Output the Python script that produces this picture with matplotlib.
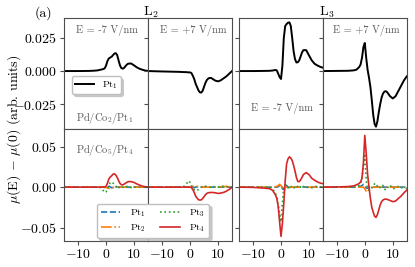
import matplotlib
matplotlib.use('Agg')
import matplotlib.pyplot as plt
from matplotlib.lines import Line2D

plt.rcParams.update({
    'font.family': 'serif',
    'font.serif': ['cmr10'],
    'mathtext.fontset': 'cm',
    'axes.formatter.use_mathtext': True,
    'font.size': 10,
})

# energy grid (eV, relative to edge) shared by all curves
energy = [-15, -10, -6, -4, -3, -2, -1.5, -1, -0.5, 0, 0.5, 1, 1.5, 2, 2.5, 3, 3.5,
          4, 4.5, 5, 5.5, 6, 6.5, 7, 7.5, 8, 9, 10, 11, 12, 13, 14, 15]

# --- Pd/Co2/Pt1 (top row), Pt1 only ---
top_l2_minus = [0, 0, 0.0001, 0.0003, 0.0005, 0.001, 0.0012, 0.0015, 0.002, 0.004, 0.0075,
                0.0095, 0.0102, 0.0108, 0.012, 0.0132, 0.0135, 0.012, 0.008, 0.0042, 0.0022,
                0.0018, 0.0025, 0.0038, 0.005, 0.0056, 0.0057, 0.0043, 0.0028, 0.0017, 0.001,
                0.0004, 0.0001]
top_l2_plus = [0, -0.0003, -0.0005, -0.0006, -0.0007, -0.0008, -0.0008, -0.0009, -0.001,
               -0.001, -0.0015, -0.0035, -0.006, -0.0095, -0.012, -0.0145, -0.016, -0.0163,
               -0.015, -0.012, -0.009, -0.0068, -0.0057, -0.0052, -0.0052, -0.0058, -0.0072,
               -0.0078, -0.007, -0.0055, -0.004, -0.002, 0.0]
top_l3_minus = [0, 0, 0.0001, 0.0002, 0.0004, 0.0008, 0.0005, -0.002, -0.0045, -0.006, 0.004,
                0.025, 0.034, 0.0355, 0.0365, 0.0368, 0.034, 0.025, 0.015, 0.009, 0.0065,
                0.0066, 0.008, 0.011, 0.014, 0.0158, 0.0158, 0.0118, 0.008, 0.0055, 0.0042,
                0.0032, 0.0025]
top_l3_plus = [0, 0.0001, 0.0002, 0.0005, 0.001, 0.003, 0.005, 0.010, 0.018, 0.0212, 0.010,
               0.001, -0.005, -0.012, -0.022, -0.033, -0.040, -0.042, -0.038, -0.031, -0.025,
               -0.020, -0.017, -0.0155, -0.0152, -0.016, -0.019, -0.0207, -0.019, -0.015,
               -0.011, -0.007, -0.004]

# --- Pd/Co5/Pt4 (bottom row), Pt1..Pt4 ---
bot_l2_minus = {
    'Pt$_1$': [0, 0, 0, 0, 0, 0, 0, 0, -0.0003, -0.001, 0.0, 0.001, 0.0005, -0.0008, -0.0005,
               0.0003, 0.0005, 0, -0.0003, 0, 0.0003, 0, 0, 0, 0, 0, 0, 0, 0, 0, 0, 0, 0],
    'Pt$_2$': [0, 0, 0, 0, 0, 0, 0, 0, 0, -0.0005, -0.001, -0.0015, -0.0015, -0.001, -0.0005,
               0.0003, 0.0005, 0.0003, 0, 0, 0, 0, 0, 0, 0, 0, 0, 0, 0, 0, 0, 0, 0],
    'Pt$_3$': [0, 0, 0, 0, 0, -0.0005, -0.002, -0.004, -0.0065, -0.006, -0.0025, 0.002,
               0.0055, 0.0065, 0.005, 0.0035, 0.001, -0.0015, -0.001, 0.001, 0.0012, 0.0,
               -0.001, 0.0, 0.001, 0.0005, -0.0005, 0.0005, 0, 0, 0, 0, 0],
    'Pt$_4$': [0, 0, 0, 0, 0, 0, 0, 0, 0.0003, 0.001, 0.0045, 0.010, 0.0125, 0.014, 0.016,
               0.0165, 0.015, 0.012, 0.008, 0.0045, 0.003, 0.0028, 0.0038, 0.005, 0.006,
               0.0068, 0.0068, 0.0058, 0.004, 0.0025, 0.0012, 0.0005, 0.0002],
}
bot_l2_plus = {
    'Pt$_1$': [0, 0, 0, 0, 0, 0, 0, 0, 0.0003, 0.0005, 0, -0.0005, -0.0005, 0, 0.0003, 0.0005,
               0.0003, 0, 0, 0, 0, 0, 0, 0, 0, 0, 0, 0, 0, 0, 0, 0, 0],
    'Pt$_2$': [0, 0, 0, 0, 0, 0, 0, 0, 0, 0, 0.0005, 0.001, 0.001, 0.0012, 0.001, 0.0008,
               0.0005, 0.0003, 0, 0, 0, 0, 0, 0, 0, 0, 0, 0.0003, 0.0005, 0.0008, 0.0008,
               0.0005, 0],
    'Pt$_3$': [0, 0, 0, 0, 0.0003, 0.0012, 0.003, 0.0055, 0.0078, 0.006, 0.002, -0.0015,
               -0.003, -0.004, -0.0045, -0.003, -0.001, 0.0, 0.0005, 0.0008, 0.001, 0.0012,
               0.0008, 0.0, -0.0005, 0.0, 0.0008, 0.0, 0.0005, 0.001, 0.0005, 0.0002, 0],
    'Pt$_4$': [0, 0, 0, 0, 0, 0, 0, 0, 0, 0, -0.0005, -0.003, -0.0065, -0.011, -0.0135,
               -0.0155, -0.016, -0.0158, -0.014, -0.012, -0.0095, -0.0078, -0.007, -0.0068,
               -0.0066, -0.0066, -0.007, -0.0078, -0.0074, -0.0065, -0.005, -0.0028, -0.0004],
}
bot_l3_minus = {
    'Pt$_1$': [0, 0, 0, 0, 0, 0, 0, 0.0005, 0.002, 0.003, -0.002, -0.003, 0.0015, 0.002, 0.0,
               -0.0005, 0, 0.0005, 0, 0, 0, 0, 0, 0, 0, 0, 0, 0, 0, 0, 0, 0, 0],
    'Pt$_2$': [0, 0, 0, 0, 0, 0.0005, 0.001, 0.002, 0.0035, 0.002, -0.0005, -0.001, -0.0005,
               0, 0, 0, 0, 0, 0, 0, 0, 0, 0, 0, 0, 0, 0, 0, 0, 0, 0, 0, 0],
    'Pt$_3$': [0, 0, 0, 0, -0.002, -0.008, -0.011, -0.022, -0.033, -0.043, -0.02, 0.0, 0.003,
               0.002, -0.001, 0.001, -0.0005, 0.002, 0.0, -0.002, -0.0005, 0.001, -0.001,
               0.0005, -0.001, 0.0008, -0.001, 0.0005, -0.0008, 0.0005, 0.001, 0.0005, 0.0],
    'Pt$_4$': [0, -0.0003, -0.0012, -0.002, -0.004, -0.0095, -0.014, -0.024, -0.043, -0.061,
               -0.045, -0.020, 0.008, 0.029, 0.035, 0.0375, 0.036, 0.033, 0.027, 0.020, 0.012,
               0.007, 0.0068, 0.009, 0.012, 0.0155, 0.018, 0.0155, 0.011, 0.0085, 0.0065,
               0.005, 0.0043],
}
bot_l3_plus = {
    'Pt$_1$': [0, 0, 0, 0, 0, 0.0005, 0.001, 0.002, 0.0033, 0.002, -0.001, -0.0015, 0.0,
               0.0008, 0.0003, 0, 0, 0, 0, 0, 0, 0, 0, 0, 0, 0, 0, 0, 0, 0, 0, 0, 0],
    'Pt$_2$': [0, 0, 0, 0, 0, 0, 0, 0, 0.0, -0.002, -0.005, -0.0058, -0.004, -0.002, -0.001,
               0.0, 0, 0, 0, 0, 0, 0, 0, 0, 0, 0, 0, 0, 0, 0, 0, 0, 0],
    'Pt$_3$': [0, 0, 0, 0, 0.0005, 0.002, 0.0045, 0.011, 0.025, 0.0416, 0.0087, -0.003,
               -0.004, -0.003, -0.0005, 0.002, 0.004, 0.0045, 0.001, -0.0016, 0.0, 0.0025,
               0.002, -0.002, -0.0037, -0.001, 0.0025, -0.002, -0.001, 0.001, -0.0005,
               -0.001, -0.0016],
    'Pt$_4$': [0, 0.0002, 0.0007, 0.0015, 0.0028, 0.0045, 0.0066, 0.011, 0.030, 0.064, 0.042,
               0.016, 0.0, -0.014, -0.025, -0.031, -0.036, -0.0375, -0.034, -0.028, -0.022,
               -0.018, -0.016, -0.015, -0.0148, -0.0152, -0.0165, -0.018, -0.0172, -0.014,
               -0.011, -0.007, -0.0037],
}

field_labels = ['E = -7 V/nm', 'E = +7 V/nm', 'E = -7 V/nm', 'E = +7 V/nm']
edge_labels = ['L$_2$', 'L$_3$']
pt_styles = {'Pt$_1$': ('tab:blue', '--'), 'Pt$_2$': ('tab:orange', '-.'),
             'Pt$_3$': ('tab:green', ':'), 'Pt$_4$': ('tab:red', '-')}

W, H = 415, 267
fig = plt.figure(figsize=(W / 100, H / 100), dpi=100)

# panel layout in pixels
lefts = [64, 148, 239, 322.8]
pw = 84
row_top, row_mid, row_bot = 17.7, 129.3, 241.0


def px_axes(x0, y0, y1):
    return fig.add_axes([x0 / W, 1 - y1 / H, pw / W, (y1 - y0) / H])


top_axes = [px_axes(x, row_top, row_mid) for x in lefts]
bot_axes = [px_axes(x, row_mid, row_bot) for x in lefts]

top_data = [top_l2_minus, top_l2_plus, top_l3_minus, top_l3_plus]
bot_data = [bot_l2_minus, bot_l2_plus, bot_l3_minus, bot_l3_plus]

for i, ax in enumerate(top_axes):
    ax.plot(energy, top_data[i], color='k', lw=1.4, label='Pt$_1$')
    ax.set_ylim(-0.044, 0.0403)
    ax.set_yticks([-0.025, 0.0, 0.025])
    ax.tick_params(axis='x', bottom=False, labelbottom=False)

for i, ax in enumerate(bot_axes):
    for name, vals in bot_data[i].items():
        c, ls = pt_styles[name]
        ax.plot(energy, vals, color=c, ls=ls, lw=1.2)
    ax.set_ylim(-0.0667, 0.0716)
    ax.set_yticks([-0.05, 0.0, 0.05])
    ax.set_xticks([-10, 0, 10])

for i, ax in enumerate(top_axes + bot_axes):
    ax.set_xlim(-15, 15)
    for sp in ax.spines.values():
        sp.set_color('0.3')
        sp.set_linewidth(0.8)
    ax.tick_params(color='0.3', length=3, width=0.8, labelsize=10, pad=2)
    if i % 4 != 0:
        ax.tick_params(axis='y', labelleft=False)

# annotations
kw = dict(color='0.35', fontsize=7.5, ha='center', va='center')
fig.text(107 / W, 1 - 30 / H, field_labels[0], **kw)
fig.text(193 / W, 1 - 30 / H, field_labels[1], **kw)
fig.text(282 / W, 1 - 108 / H, field_labels[2], **kw)
fig.text(366 / W, 1 - 30 / H, field_labels[3], **kw)
fig.text(105 / W, 1 - 118 / H, 'Pd/Co$_2$/Pt$_1$', **kw)
fig.text(105 / W, 1 - 150 / H, 'Pd/Co$_5$/Pt$_4$', **kw)

fig.text(151 / W, 1 - 12 / H, edge_labels[0], ha='center', va='center', fontsize=10)
fig.text(327 / W, 1 - 12 / H, edge_labels[1], ha='center', va='center', fontsize=10)
fig.text(43 / W, 1 - 13 / H, '(a)', ha='center', va='center', fontsize=10)
fig.text(14 / W, 1 - 129 / H, r'$\mu$(E) $-$ $\mu$(0) (arb. units)',
         rotation=90, ha='center', va='center', fontsize=10)

# legends
shadow = {'color': '0.75', 'alpha': 0.8}
top_axes[0].legend(loc='upper left', bbox_to_anchor=(0.092, 0.476), borderaxespad=0,
                   fontsize=7, borderpad=0.3, handlelength=2.0, fancybox=True,
                   shadow=shadow, framealpha=1, edgecolor='0.75')

handles = [Line2D([], [], color=pt_styles[n][0], ls=pt_styles[n][1], lw=1.2)
           for n in pt_styles]
leg = fig.legend(handles, list(pt_styles), ncol=2, loc='lower left',
                 bbox_to_anchor=(96.7 / W, 1 - 237.7 / H), borderaxespad=0,
                 fontsize=7, borderpad=0.4, handlelength=2.0, handletextpad=1.0,
                 columnspacing=1.5, labelspacing=0.3, fancybox=True,
                 shadow=shadow, framealpha=1, edgecolor='0.75')

fig.savefig('out.png', dpi=100)
